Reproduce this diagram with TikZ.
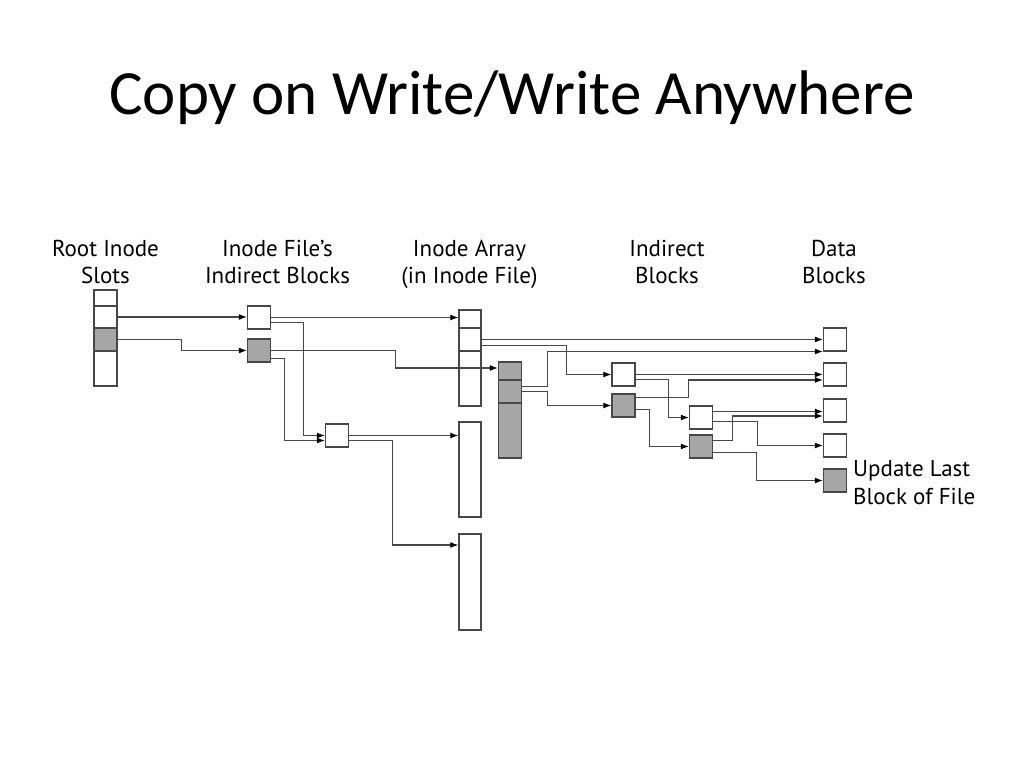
\documentclass[tikz,border=0pt]{standalone}
\usepackage{fontspec}
\setmainfont{PT Sans}
\newfontfamily\titlefont{Carlito}
\usepackage{tikz}
\usetikzlibrary{arrows.meta}
\definecolor{linegray}{gray}{0.28}
\definecolor{fillgray}{gray}{0.65}
\tikzset{my block/.style={
  draw=linegray,
  line width=1.3pt,
  fill=white,
  inner sep=0pt,
  minimum width=23pt,
  minimum height=23pt
  }
}
\tikzset{my gray block/.style={
  my block,
  fill=fillgray
  }
}
\tikzset{my arrow/.style={
  linegray,
  line width=1.2pt,
  -{Latex[length=8pt,width=6pt,black]}
  }
}
\tikzset{my label/.style={
  align=center,
  inner sep=0pt,
  font=\fontsize{23}{27.4}\selectfont
  }
}

\begin{document}
\begin{tikzpicture}[x=1pt,y=-1pt]
    \useasboundingbox (0,0) rectangle (1024,768);
    \node[font=\titlefont\fontsize{63}{70}\selectfont] (title) at (512,98) {Copy on Write/Write Anywhere};

    \node[my label] (Lroot) at (105.5,264.5) {\strut Root Inode\\\strut Slots};
    \node[my label] (Lfile) at (277.5,264.5) {\strut Inode File's\\\strut Indirect Blocks};
    \node[my label] (Larray) at (469.5,264.5) {\strut Inode Array\\\strut (in Inode File)};
    \node[my label] (Lind) at (667,264.5) {\strut Indirect\\\strut Blocks};
    \node[my label] (Ldata) at (834,264.5) {\strut Data\\\strut Blocks};

    % root inode slots
    \node[my block,minimum height=16pt] (r1) at (105.5,298) {};
    \node[my block,minimum height=22pt] (r2) at (105.5,317) {};
    \node[my gray block] (r3) at (105.5,339.5) {};
    \node[my block,minimum height=35pt] (r4) at (105.5,368.5) {};

    % inode file's indirect blocks
    \node[my block] (A) at (259,317.5) {};
    \node[my gray block] (B) at (259,350.5) {};
    \node[my block] (C) at (337,435.5) {};

    % inode array
    \node[my block,minimum width=22pt,minimum height=18pt] (s1) at (470,319) {};
    \node[my block,minimum width=22pt] (s2) at (470,339.5) {};
    \node[my block,minimum width=22pt,minimum height=55pt] (s3) at (470,378.5) {};
    \node[my block,minimum width=22pt,minimum height=95pt] (col2) at (470,469.5) {};
    \node[my block,minimum width=22pt,minimum height=96pt] (col3) at (470,582) {};

    \node[my gray block,minimum height=18pt] (g1) at (510,371) {};
    \node[my gray block] (g2) at (510,391.5) {};
    \node[my gray block,minimum height=55pt] (g3) at (510,430.5) {};

    % indirect blocks
    \node[my block] (D) at (623.5,374.5) {};
    \node[my gray block] (E) at (623.5,405.5) {};
    \node[my block] (F) at (701,417.5) {};
    \node[my gray block] (G) at (701,446.5) {};

    % data blocks
    \foreach \y [count=\n] in {339.5,374.5,410.5,445.5}
        \node[my block] (d\n) at (835,\y) {};
    \node[my gray block] (d5) at (835,480.5) {};
    \node[my label,anchor=west,align=left] (Lupdate) at (853,484.9) {\strut Update Last\\\strut Block of File};

    \draw[my arrow] (r2.east) -- (r2.east -| A.west);
    \draw[my arrow] (r3.east) -- ++(64,0) |- (B.west);
    \draw[my arrow] (A.east) -- (A.east -| s1.west);
    \draw[my arrow] ([yshift=-5pt]A.east) -- ++(32,0) |- (C.west);
    \draw[my arrow] (B.east) -- ++(124,0) |- ([yshift=3pt]g1.west);
    \draw[my arrow] ([yshift=-8pt]B.east) -- ++(13,0) |- ([yshift=-5pt]C.west);
    \draw[my arrow] (C.east) -- (C.east -| col2.west);
    \draw[my arrow] ([yshift=-5pt]C.east) -- ++(43,0) |- ([yshift=37pt]col3.west);

    \draw[my arrow] (s2.east) -- (s2.east -| d1.west);
    \draw[my arrow] ([yshift=-6pt]s2.east) -- ++(85,0) |- (D.west);
    \draw[my arrow] ([yshift=5pt]g2.east) -- ++(25,0) |- ([yshift=-12pt]d1.west);
    \draw[my arrow] (g2.east) -- ++(25,0) |- (E.west);

    \draw[my arrow] (D.east) -- (D.east -| d2.west);
    \draw[my arrow] ([yshift=-5pt]D.east) -- ++(33,0) |- (F.west);
    \draw[my arrow] ([yshift=8pt]E.east) -- ++(53,0) |- ([yshift=-5.5pt]d2.west);
    \draw[my arrow] ([yshift=-4pt]E.east) -- ++(14,0) |- (G.west);

    \draw[my arrow] ([yshift=6pt]F.east) -- ([yshift=6pt]F.east -| d3.west);
    \draw[my arrow] ([yshift=-4pt]F.east) -- ++(44,0) |- (d4.west);
    \draw[my arrow] ([yshift=6pt]G.east) -- ++(19,0) |- ([yshift=-5.5pt]d3.west);
    \draw[my arrow] ([yshift=-6pt]G.east) -- ++(43,0) |- (d5.west);

\end{tikzpicture}
\end{document}
